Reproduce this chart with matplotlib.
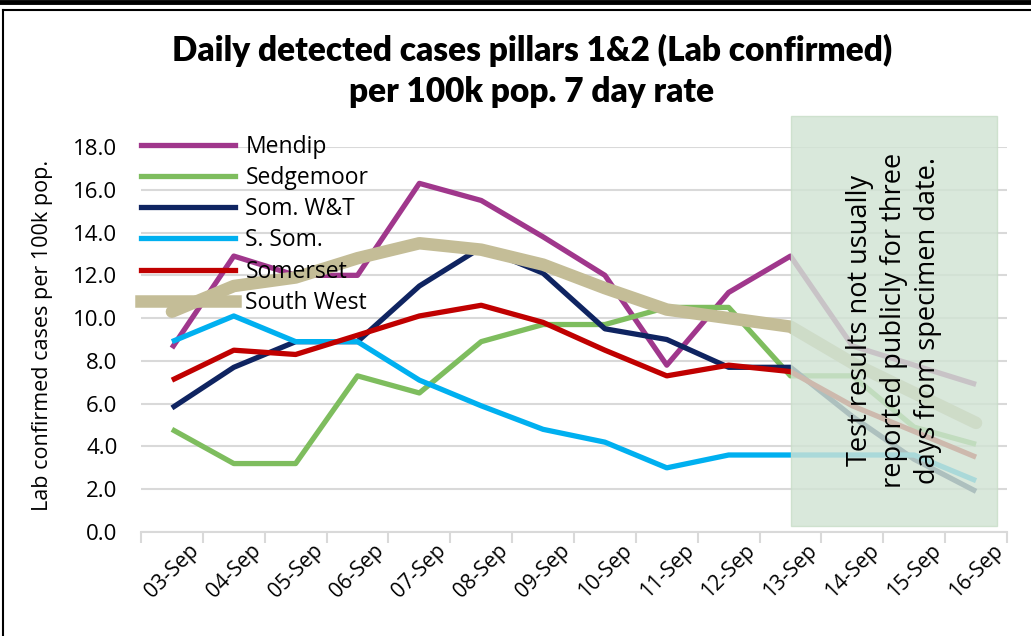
import matplotlib
matplotlib.use("Agg")
import matplotlib.pyplot as plt
from matplotlib.patches import Rectangle
from matplotlib.lines import Line2D

dates = ["03-Sep", "04-Sep", "05-Sep", "06-Sep", "07-Sep", "08-Sep", "09-Sep",
         "10-Sep", "11-Sep", "12-Sep", "13-Sep", "14-Sep", "15-Sep", "16-Sep"]

mendip     = [8.6, 12.9, 12.0, 12.0, 16.3, 15.5, 13.8, 12.0, 7.8, 11.2, 12.9, 8.7, 7.8, 6.9]
sedgemoor  = [4.8, 3.2, 3.2, 7.3, 6.5, 8.9, 9.7, 9.7, 10.5, 10.5, 7.3, 7.3, 4.9, 4.1]
som_wt     = [5.8, 7.7, 8.9, 8.9, 11.5, 13.3, 12.1, 9.5, 9.0, 7.7, 7.7, 5.4, 3.4, 1.9]
s_som      = [8.9, 10.1, 8.9, 8.9, 7.1, 5.9, 4.8, 4.2, 3.0, 3.6, 3.6, 3.6, 3.6, 2.4]
somerset   = [7.1, 8.5, 8.3, 9.2, 10.1, 10.6, 9.8, 8.5, 7.3, 7.8, 7.5, 5.9, 4.7, 3.5]
south_west = [10.3, 11.5, 11.9, 12.8, 13.5, 13.2, 12.5, 11.4, 10.4, 10.0, 9.6, 7.9, 6.5, 5.1]

series_names = ["Mendip", "Sedgemoor", "Som. W&T", "S. Som.", "Somerset", "South West"]
series_vals = [mendip, sedgemoor, som_wt, s_som, somerset, south_west]
colors = ["#A0378C", "#7EBD5E", "#0F2461", "#00B0F0", "#C00000", "#C4BD97"]
widths = [3.8, 3.8, 3.8, 3.8, 3.8, 9.0]

y_ticks = [0, 2, 4, 6, 8, 10, 12, 14, 16, 18]
shade_start, shade_end = 10.0, 13.34
note = "Test results not usually\nreported publicly for three\ndays from specimen date."

plt.rcParams['font.family'] = ['Open Sans', 'DejaVu Sans']

W, H = 1031, 636
fig = plt.figure(figsize=(W / 100, H / 100), dpi=100)
ax = fig.add_axes([141 / W, 1 - 532 / H, (1007 - 141) / W, (532 - 147) / H])

x = list(range(len(dates)))
for name, vals, c, lw in zip(series_names, series_vals, colors, widths):
    ax.plot(x, vals, color=c, lw=lw, solid_capstyle='round' if lw > 5 else 'butt',
            solid_joinstyle='round', label=name, zorder=3)

ax.set_xlim(-0.5, len(dates) - 0.5)
ax.set_ylim(0, 18)
ax.set_yticks(y_ticks)
ax.set_yticklabels([f"{v:.1f}" for v in y_ticks], fontsize=16)
ax.tick_params(axis='y', length=0, pad=17)
ax.yaxis.grid(True, color="#D9D9D9", lw=1.5)
ax.set_axisbelow(True)

ax.set_xticks(x)
ax.set_xticklabels(dates, rotation=45, ha='center', va='top', fontsize=15)
ax.tick_params(axis='x', length=0, pad=6)
ax.set_xticks([i - 0.5 for i in range(len(dates) + 1)], minor=True)
ax.tick_params(axis='x', which='minor', length=8, color="#D9D9D9", width=1.5)

for s in ['top', 'right', 'left']:
    ax.spines[s].set_visible(False)
ax.spines['bottom'].set_color("#D9D9D9")
ax.spines['bottom'].set_linewidth(1.5)

ax.set_ylabel("Lab confirmed cases per 100k pop.", fontsize=15.5)
ax.yaxis.set_label_coords((53 - 141) / (1007 - 141), 0.51)

rect = Rectangle((shade_start, 0.26), shade_end - shade_start, 19.47 - 0.26,
                 facecolor="#D1E3D4", edgecolor="#C8DEC8", lw=1, alpha=0.82,
                 zorder=4, clip_on=False)
ax.add_patch(rect)
ax.text((shade_start + shade_end) / 2, 9.9, note, rotation=90, ha='center', va='center',
        fontsize=19.5, linespacing=1.3, zorder=5, color="black")

handles = [Line2D([0], [0], color=c, lw=lw) for c, lw in zip(colors, widths)]
leg = fig.legend(handles, series_names, loc='upper left',
                 bbox_to_anchor=(132 / W, 1 - 126 / H), frameon=False,
                 fontsize=16.5, handlelength=4.1, handletextpad=0.45,
                 labelspacing=0.31, borderaxespad=0)
leg.set_zorder(6)

title_font = ['Lato', 'DejaVu Sans']
fig.text(532 / W, 1 - 50 / H, "Daily detected cases pillars 1&2 (Lab confirmed)",
         ha='center', va='center', fontsize=24, fontweight='heavy', family=title_font)
fig.text(532 / W, 1 - 92 / H, "per 100k pop. 7 day rate",
         ha='center', va='center', fontsize=24, fontweight='heavy', family=title_font)

# outer frame lines
fig.add_artist(Line2D([0, 1], [1 - 1.5 / H, 1 - 1.5 / H], color='black', lw=3.5))
fig.add_artist(Line2D([3 / W, 1], [1 - 10 / H, 1 - 10 / H], color='black', lw=1.5))
fig.add_artist(Line2D([3 / W, 3 / W], [0, 1 - 10 / H], color='black', lw=1.5))

fig.savefig("out.png", dpi=100)
